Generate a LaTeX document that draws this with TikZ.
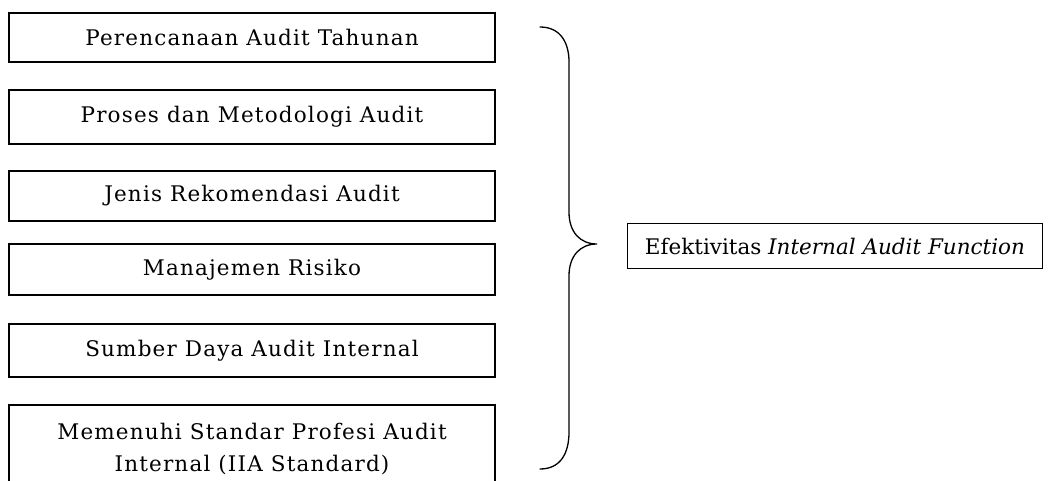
\documentclass[tikz,border=0pt]{standalone}
\usepackage{fontspec}
\setmainfont{DejaVu Serif}
\newfontfamily\spacedf[LetterSpace=5.5]{DejaVu Serif}
\newfontfamily\plainf{DejaVu Serif}
\begin{document}
\begin{tikzpicture}[x=1pt,y=-1pt,
  factor/.style={draw, line width=1.1pt, minimum width=486pt, inner sep=0pt, align=center,
    font=\spacedf\fontsize{21.5}{32}\selectfont},
  result/.style={draw, line width=1.1pt, minimum width=415pt, minimum height=45pt, inner sep=0pt,
    font=\plainf\fontsize{21.5}{26}\selectfont},
  bracestyle/.style={line width=1.3pt, line cap=round}]
\useasboundingbox (0,0) rectangle (1058,480);
\node[factor, minimum height=49pt] (b1) at (252,37.5) {Perencanaan Audit Tahunan};
\node[factor, minimum height=54pt] (b2) at (252,117) {Proses dan Metodologi Audit};
\node[factor, minimum height=50pt] (b3) at (252,196) {Jenis Rekomendasi Audit};
\node[factor, minimum height=51pt] (b4) at (252,269.5) {Manajemen Risiko};
\node[factor, minimum height=53pt] (b5) at (252,350.5) {Sumber Daya Audit Internal};
\node[factor, minimum height=88pt] (b6) at (252,449) {Memenuhi Standar Profesi Audit\\Internal (IIA Standard)};
\node[result] (r) at (835,246) {Efektivitas \textit{Internal Audit Function}};
\coordinate (btop) at (540,27);
\coordinate (bbot) at (540,469);
\coordinate (btip) at (597,244);
\draw[bracestyle] (btop) .. controls (560,27) and (569,42) .. (569,62)
  -- (569,212) .. controls (569,232) and (580,244) .. (btip)
  .. controls (580,244) and (569,256) .. (569,276)
  -- (569,432) .. controls (569,454) and (560,469) .. (bbot);
\end{tikzpicture}
\end{document}
